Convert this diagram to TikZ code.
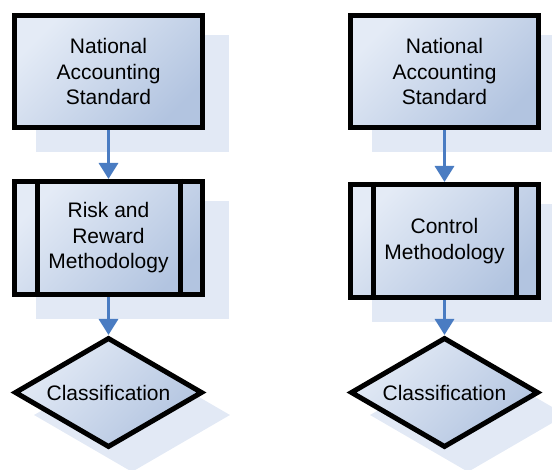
\documentclass[tikz,border=0pt]{standalone}
\usepackage{fontspec}
\setmainfont{Liberation Sans}
\usetikzlibrary{shapes.geometric,arrows.meta,shadows}
\definecolor{boxlight}{HTML}{E4EBF6}
\definecolor{boxdark}{HTML}{B2C4E0}
\definecolor{shadowfill}{HTML}{E2E9F5}
\definecolor{arrowblue}{HTML}{4A7CC2}
\tikzset{
  flowshadow/.style={general shadow={shadow xshift=23.5pt, shadow yshift=-22.5pt, fill=shadowfill, draw=shadowfill, line width=5pt}},
  boxbase/.style={draw=black, line width=5pt, top color=boxlight, bottom color=boxdark, shading angle=45,
    inner sep=0pt, align=center, font=\fontsize{21pt}{25.5pt}\selectfont, flowshadow},
  stdbox/.style={boxbase, rectangle, minimum width=188pt, minimum height=112pt},
  procbox/.style={boxbase, rectangle, minimum width=188pt, minimum height=113pt},
  decbox/.style={boxbase, diamond, aspect=1.7, minimum width=188pt, minimum height=110pt},
  flowarrow/.style={draw=arrowblue, line width=3.2pt, -{Triangle[width=19pt,length=16pt]}},
  sideline/.style={line width=5pt}
}
\begin{document}
\begin{tikzpicture}[x=1pt,y=1pt]
\useasboundingbox (0,0) rectangle (552,-470);
% left column
\node[stdbox] (la) at (108.5,-71.5) {National\\Accounting\\Standard};
\node[procbox] (lb) at (108.5,-238) {Risk and\\Reward\\Methodology};
\node[decbox] (lc) at (108.5,-392.5) {Classification};
% right column
\node[stdbox] (ra) at (444.5,-71.5) {National\\Accounting\\Standard};
\node[procbox] (rb) at (444.5,-241) {Control\\Methodology};
\node[decbox] (rc) at (444.5,-392.5) {Classification};
% side bars of process boxes
\draw[sideline] ([xshift=25pt]lb.north west) -- ([xshift=25pt]lb.south west);
\draw[sideline] ([xshift=-25pt]lb.north east) -- ([xshift=-25pt]lb.south east);
\draw[sideline] ([xshift=25pt]rb.north west) -- ([xshift=25pt]rb.south west);
\draw[sideline] ([xshift=-25pt]rb.north east) -- ([xshift=-25pt]rb.south east);
% connectors
\draw[flowarrow] (la.south) -- (lb.north);
\draw[flowarrow] (lb.south) -- (lc.north);
\draw[flowarrow] (ra.south) -- (rb.north);
\draw[flowarrow] (rb.south) -- (rc.north);
\end{tikzpicture}
\end{document}
